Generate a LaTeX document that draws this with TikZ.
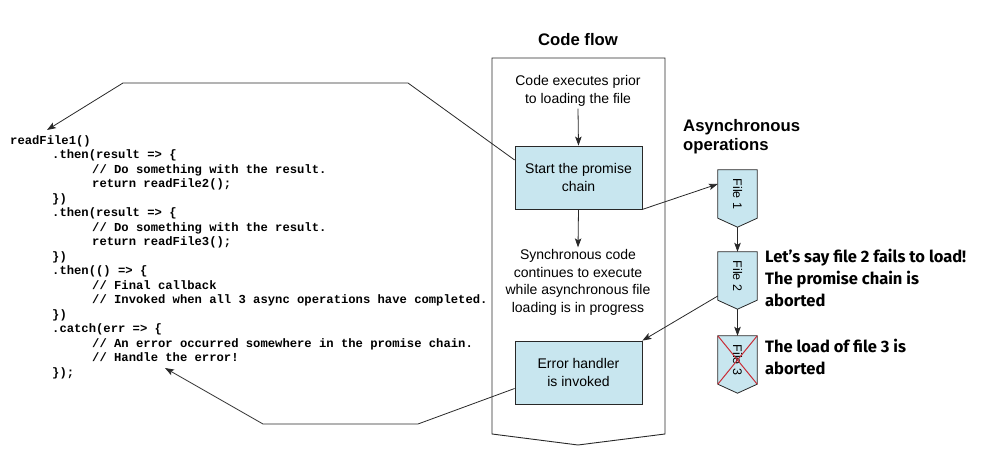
\documentclass[tikz,border=0pt]{standalone}
\usepackage{fontspec}
\usepackage{graphicx}
\setmainfont{Liberation Sans}
\newfontfamily\codefont{Liberation Mono}
\newfontfamily\notefont{Fira Sans}
\usetikzlibrary{arrows.meta,calc,backgrounds}
\definecolor{boxblue}{RGB}{200,230,239}
\definecolor{xred}{RGB}{200,45,55}
\definecolor{edge}{RGB}{40,40,40}
\begin{document}
\begin{tikzpicture}[x=1pt,y=-1pt,
  arr/.style={draw=edge,line width=0.8pt,-{Stealth[length=9pt,width=6.5pt,inset=2pt]}},
  conn/.style={draw=edge,line width=0.8pt},
  procbox/.style={draw=edge,fill=boxblue,line width=0.8pt,minimum width=127pt,minimum height=63pt,inner sep=0pt,align=center,font=\fontsize{14}{18}\selectfont},
  flowtext/.style={align=center,inner sep=2pt,font=\fontsize{14}{17.6}\selectfont},
  titletext/.style={font=\fontsize{16.7}{19.5}\selectfont\bfseries},
  filebox/.style={minimum width=39pt,minimum height=48pt,inner sep=0pt,font=\fontsize{12.5}{14}\selectfont},
  filefill/.style={draw=edge,fill=boxblue,line width=0.8pt},
  notetext/.style={anchor=west,align=left,inner sep=0pt,font=\notefont\fontsize{16.5}{22}\selectfont\bfseries},
  codetext/.style={anchor=north west,align=left,inner sep=0pt,font=\codefont\fontsize{12.2}{14.5}\selectfont\bfseries}
]
\useasboundingbox (0,0) rectangle (986,470);

% code flow frame
\draw[conn,line width=0.9pt] (492,58) -- (665,58) -- (665,434) -- (578,445) -- (492,434) -- cycle;
\node[titletext] (title) at (578,40) {Code flow};

\node[flowtext] (prior) at (578,91) {Code executes prior\\to loading the file};
\node[procbox] (start) at (578.5,177.5) {Start the promise\\chain};
\node[flowtext] (sync) at (578,282.5) {Synchronous code\\continues to execute\\while asynchronous file\\loading is in progress};
\node[procbox] (err) at (578.5,372.5) {Error handler\\is invoked};

\draw[arr] (prior.south) -- (start.north);
\draw[arr] (start.south) -- (sync.north);

% asynchronous operations
\node[titletext,anchor=west,align=left,inner sep=0pt] (async) at (683,136.5) {Asynchronous\\operations};

\node[filebox] (f1) at (737.5,194) {\rotatebox{-90}{File 1}};
\node[filebox] (f2) at (737.5,276) {\rotatebox{-90}{File 2}};
\node[filebox] (f3) at (737.5,360) {\rotatebox{-90}{File 3}};
\begin{scope}[on background layer]
\foreach \f in {f1,f2,f3}{
  \path[filefill] (\f.north west) -- (\f.north east) -- (\f.south east) -- ($(\f.south)+(0,9)$) -- (\f.south west) -- cycle;
}
\end{scope}
\coordinate (f1tip) at ($(f1.south)+(0,9)$);
\coordinate (f2tip) at ($(f2.south)+(0,9)$);
\draw[xred,line width=1pt] (f3.north west) -- (f3.south east) (f3.north east) -- (f3.south west);

\draw[arr] (f1tip) -- (f2.north);
\draw[arr] (f2tip) -- (f3.north);

\node[notetext] (note2) at (765,278) {Let’s say file 2 fails to load!\\The promise chain is\\aborted};
\node[notetext] (note3) at (765,357) {The load of file 3 is\\aborted};

% connectors
\draw[arr] (start.south east) -- ([yshift=10pt]f1.west);
\draw[arr] ([yshift=-20pt]f2.west) -- (err.north east);

% code
\node[codetext] (code) at (10,135) {readFile1()\\
\hspace*{42pt}.then(result => \{\\
\hspace*{82pt}// Do something with the result.\\
\hspace*{82pt}return readFile2();\\
\hspace*{42pt}\})\\
\hspace*{42pt}.then(result => \{\\
\hspace*{82pt}// Do something with the result.\\
\hspace*{82pt}return readFile3();\\
\hspace*{42pt}\})\\
\hspace*{42pt}.then(() => \{\\
\hspace*{82pt}// Final callback\\
\hspace*{82pt}// Invoked when all 3 async operations have completed.\\
\hspace*{42pt}\})\\
\hspace*{42pt}.catch(err => \{\\
\hspace*{82pt}// An error occurred somewhere in the promise chain.\\
\hspace*{82pt}// Handle the error!\\
\hspace*{42pt}\});};

\coordinate (codetop) at (47,130);
\coordinate (handle) at (165,368);
\draw[arr] ([yshift=17.5pt]start.west) -- (408,83) -- (123,83) -- (codetop);
\draw[arr] ([yshift=-16pt]err.west) -- (418,424) -- (263,424) -- (handle);
\end{tikzpicture}
\end{document}
